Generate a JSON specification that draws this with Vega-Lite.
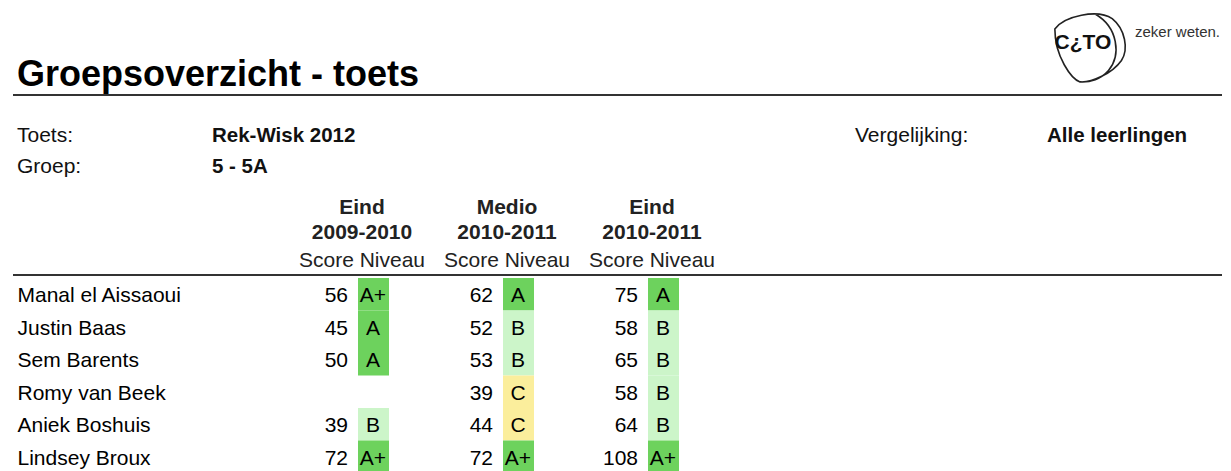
{
  "$schema": "https://vega.github.io/schema/vega-lite/v6.json",
  "width": 1209,
  "height": 195,
  "autosize": {"type": "none"},
  "padding": {"left": 13, "top": 278, "right": 9, "bottom": 0},
  "background": "white",
  "config": {
    "view": {"stroke": null},
    "font": "Liberation Sans",
    "text": {"font": "Liberation Sans", "fontSize": 21, "color": "#000"}
  },
  "title": {
    "text": "Groepsoverzicht - toets",
    "anchor": "start",
    "frame": "group",
    "offset": -83,
    "dx": 4,
    "fontSize": 36,
    "fontWeight": "bold",
    "font": "Liberation Sans",
    "color": "#000"
  },
  "datasets": {
    "resultaten": [
      {"leerling": "Manal el Aissaoui", "periode": "Eind 2009-2010", "score": 56, "niveau": "A+"},
      {"leerling": "Manal el Aissaoui", "periode": "Medio 2010-2011", "score": 62, "niveau": "A"},
      {"leerling": "Manal el Aissaoui", "periode": "Eind 2010-2011", "score": 75, "niveau": "A"},
      {"leerling": "Justin Baas", "periode": "Eind 2009-2010", "score": 45, "niveau": "A"},
      {"leerling": "Justin Baas", "periode": "Medio 2010-2011", "score": 52, "niveau": "B"},
      {"leerling": "Justin Baas", "periode": "Eind 2010-2011", "score": 58, "niveau": "B"},
      {"leerling": "Sem Barents", "periode": "Eind 2009-2010", "score": 50, "niveau": "A"},
      {"leerling": "Sem Barents", "periode": "Medio 2010-2011", "score": 53, "niveau": "B"},
      {"leerling": "Sem Barents", "periode": "Eind 2010-2011", "score": 65, "niveau": "B"},
      {"leerling": "Romy van Beek", "periode": "Medio 2010-2011", "score": 39, "niveau": "C"},
      {"leerling": "Romy van Beek", "periode": "Eind 2010-2011", "score": 58, "niveau": "B"},
      {"leerling": "Aniek Boshuis", "periode": "Eind 2009-2010", "score": 39, "niveau": "B"},
      {"leerling": "Aniek Boshuis", "periode": "Medio 2010-2011", "score": 44, "niveau": "C"},
      {"leerling": "Aniek Boshuis", "periode": "Eind 2010-2011", "score": 64, "niveau": "B"},
      {"leerling": "Lindsey Broux", "periode": "Eind 2009-2010", "score": 72, "niveau": "A+"},
      {"leerling": "Lindsey Broux", "periode": "Medio 2010-2011", "score": 72, "niveau": "A+"},
      {"leerling": "Lindsey Broux", "periode": "Eind 2010-2011", "score": 108, "niveau": "A+"}
    ]
  },
  "layer": [
    {
      "data": {"name": "resultaten"},
      "encoding": {
        "y": {
          "field": "leerling", "type": "nominal",
          "scale": {"domain": ["Manal el Aissaoui", "Justin Baas", "Sem Barents", "Romy van Beek", "Aniek Boshuis", "Lindsey Broux"], "paddingInner": 0, "paddingOuter": 0},
          "axis": {
            "orient": "left", "title": null, "ticks": false, "domain": false, "grid": false,
            "labelAlign": "left", "labelBaseline": "middle", "labelPadding": -4, "labelOffset": 2,
            "labelFont": "Liberation Sans", "labelFontSize": 21, "labelColor": "#000", "labelLimit": 400
          }
        }
      },
      "layer": [
        {
          "mark": {"type": "bar", "width": 31, "xOffset": 11.5},
          "encoding": {
            "x": {
              "field": "periode", "type": "nominal",
              "scale": {"type": "band", "domain": ["Eind 2009-2010", "Medio 2010-2011", "Eind 2010-2011"], "range": [276.5, 711.5], "paddingInner": 0, "paddingOuter": 0},
              "axis": {
                "orient": "top", "title": null, "ticks": false, "domain": false, "grid": false,
                "labelExpr": "split(datum.label, ' ')", "labelAngle": 0,
                "labelFont": "Liberation Sans", "labelFontSize": 21, "labelFontWeight": "bold",
                "labelLineHeight": 25, "labelPadding": 61, "labelColor": "#222",
                "labelOverlap": false, "labelLimit": 0
              }
            },
            "color": {
              "field": "niveau", "type": "nominal",
              "scale": {"domain": ["A+", "A", "B", "C"], "range": ["#6dd25d", "#6dd25d", "#ccf5c9", "#fbee9c"]},
              "legend": null
            }
          }
        },
        {
          "mark": {"type": "text", "align": "right", "baseline": "middle", "dx": -14, "dy": 2, "fontSize": 21},
          "encoding": {
            "x": {
              "field": "periode", "type": "nominal",
              "scale": {"type": "band", "domain": ["Eind 2009-2010", "Medio 2010-2011", "Eind 2010-2011"], "range": [276.5, 711.5], "paddingInner": 0, "paddingOuter": 0},
              "axis": {
                "orient": "top", "title": null, "ticks": false, "domain": false, "grid": false,
                "labelExpr": "'Score Niveau'", "labelAngle": 0,
                "labelFont": "Liberation Sans", "labelFontSize": 21, "labelFontWeight": "normal",
                "labelPadding": 8, "labelColor": "#222", "labelOverlap": false, "labelLimit": 0
              }
            },
            "text": {"field": "score", "type": "quantitative"}
          }
        },
        {
          "mark": {"type": "text", "align": "center", "baseline": "middle", "dx": 11, "dy": 2, "fontSize": 21},
          "encoding": {
            "x": {
              "field": "periode", "type": "nominal",
              "scale": {"type": "band", "domain": ["Eind 2009-2010", "Medio 2010-2011", "Eind 2010-2011"], "range": [276.5, 711.5], "paddingInner": 0, "paddingOuter": 0},
              "axis": null
            },
            "text": {"field": "niveau", "type": "nominal"}
          }
        }
      ],
      "resolve": {"axis": {"x": "independent"}}
    },
    {
      "data": {"values": [{"lijn": "kop"}, {"lijn": "tabel"}]},
      "mark": {"type": "rule", "color": "#333", "strokeWidth": 2},
      "encoding": {
        "y": {"field": "lijn", "type": "nominal", "scale": {"type": "point", "domain": ["kop", "tabel"], "range": [-183, -3], "padding": 0}, "axis": null}
      }
    },
    {
      "data": {"values": [{"kenmerk": "Toets:", "waarde": "Rek-Wisk 2012"}, {"kenmerk": "Groep:", "waarde": "5 - 5A"}]},
      "transform": [{"fold": ["kenmerk", "waarde"], "as": ["soort", "tekst"]}],
      "encoding": {
        "x": {"field": "soort", "type": "nominal", "scale": {"type": "point", "domain": ["kenmerk", "waarde"], "range": [4, 199], "padding": 0}, "axis": null},
        "y": {"field": "kenmerk", "type": "nominal", "scale": {"type": "point", "domain": ["Toets:", "Groep:"], "range": [-136, -105.5], "padding": 0}, "axis": null},
        "text": {"field": "tekst", "type": "nominal"}
      },
      "layer": [
        {"transform": [{"filter": "datum.soort == 'kenmerk'"}], "mark": {"type": "text", "align": "left", "baseline": "alphabetic", "fontSize": 21, "color": "#111"}},
        {"transform": [{"filter": "datum.soort == 'waarde'"}], "mark": {"type": "text", "align": "left", "baseline": "alphabetic", "fontSize": 20.5, "fontWeight": "bold", "color": "#111"}}
      ]
    },
    {
      "data": {"values": [{"kenmerk": "Vergelijking:", "waarde": "Alle leerlingen"}]},
      "transform": [{"fold": ["kenmerk", "waarde"], "as": ["soort", "tekst"]}],
      "encoding": {
        "x": {"field": "soort", "type": "nominal", "scale": {"type": "point", "domain": ["kenmerk", "waarde"], "range": [842, 1034], "padding": 0}, "axis": null},
        "y": {"field": "kenmerk", "type": "nominal", "scale": {"type": "point", "domain": ["Vergelijking:"], "range": [-136, -136], "padding": 0}, "axis": null},
        "text": {"field": "tekst", "type": "nominal"}
      },
      "layer": [
        {"transform": [{"filter": "datum.soort == 'kenmerk'"}], "mark": {"type": "text", "align": "left", "baseline": "alphabetic", "fontSize": 21, "color": "#111"}},
        {"transform": [{"filter": "datum.soort == 'waarde'"}], "mark": {"type": "text", "align": "left", "baseline": "alphabetic", "fontSize": 20.5, "fontWeight": "bold", "color": "#111"}}
      ]
    },
    {
      "data": {"values": [{"merk": "C¿TO", "slogan": "zeker weten."}]},
      "encoding": {
        "x": {"field": "merk", "type": "nominal", "scale": {"type": "point", "domain": ["C¿TO"], "range": [1077, 1077], "padding": 0}, "axis": null},
        "y": {"field": "merk", "type": "nominal", "scale": {"type": "point", "domain": ["C¿TO"], "range": [-230.5, -230.5], "padding": 0}, "axis": null}
      },
      "layer": [
        {
          "mark": {
            "type": "point", "filled": false, "stroke": "#222", "strokeWidth": 1.6, "opacity": 1, "size": 5476,
            "shape": "M -0.95 -0.5 C -0.7 -0.85 0.2 -1.05 0.6 -0.78 C 0.95 -0.5 1.05 0.05 0.85 0.35 C 0.6 0.7 0.05 0.95 -0.27 0.93 C -0.5 0.85 -0.95 0.25 -0.95 -0.5 Z M 0.15 -0.9 C 0.75 -0.55 0.85 0.2 0.5 0.62 C 0.3 0.85 0 0.95 -0.27 0.93"
          }
        },
        {
          "mark": {"type": "text", "align": "center", "baseline": "middle", "dx": -7, "dy": -5, "fontSize": 21, "fontWeight": "bold", "font": "Liberation Sans", "color": "#111"},
          "encoding": {"text": {"field": "merk", "type": "nominal"}}
        },
        {
          "mark": {"type": "text", "align": "left", "baseline": "alphabetic", "dx": 45, "dy": -10.5, "fontSize": 15, "color": "#333"},
          "encoding": {"text": {"field": "slogan", "type": "nominal"}}
        }
      ]
    }
  ],
  "resolve": {"scale": {"x": "independent", "y": "independent"}}
}
